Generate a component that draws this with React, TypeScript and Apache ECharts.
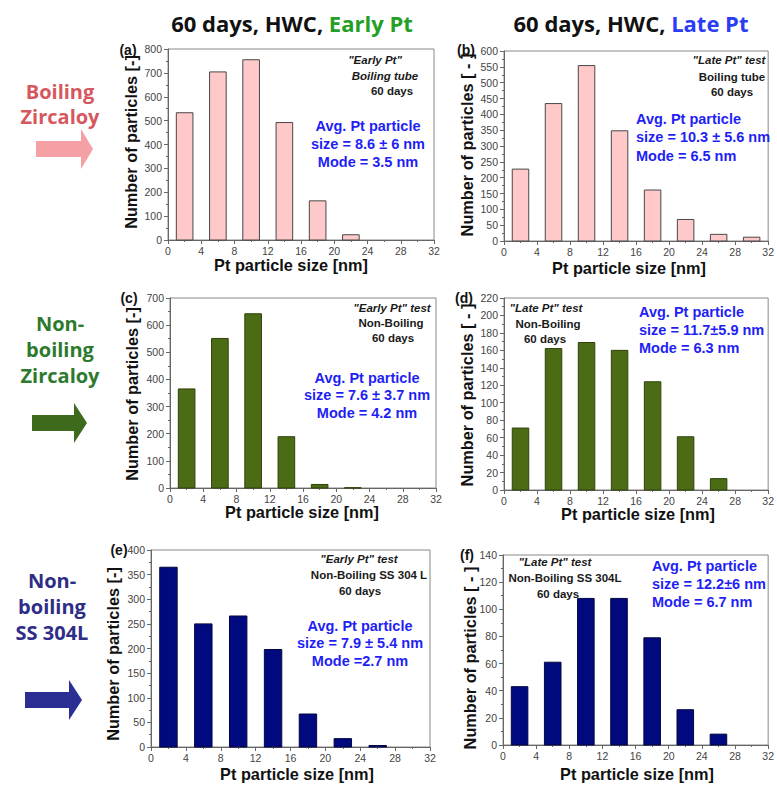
import React, { useEffect, useRef } from "react";
import * as echarts from "echarts";

// ---------- data ----------
const binCenters = [2, 6, 10, 14, 18, 22, 26, 30];
const countsA = [533, 704, 755, 492, 164, 22];
const countsB = [227, 434, 554, 348, 161, 68, 21, 12];
const countsC = [365, 551, 642, 189, 13, 1];
const countsD = [71, 162, 169, 160, 124, 61, 13];
const countsE = [365, 250, 266, 198, 67, 17, 3];
const countsF = [43, 61, 108, 108, 79, 26, 8];
const binHalfWidth = 1;
const xMin = 0;
const xMax = 32;
const xStep = 4;
const yMaxes = [800, 600, 700, 220, 400, 140];
const ySteps = [100, 50, 100, 20, 50, 20];
const panelLabels = ["(a)", "(b)", "(c)", "(d)", "(e)", "(f)"];
const xName = "Pt particle size [nm]";
const yNames = [
  "Number of particles [-]",
  "Number of particles [ - ]",
  "Number of particles [-]",
  "Number of particles [ - ]",
  "Number of particles [-]",
  "Number of particles [ - ]",
];
const noteLines = [
  ['"Early Pt"', "Boiling tube", "60 days"],
  ['"Late Pt" test', "Boiling tube", "60 days"],
  ['"Early Pt" test', "Non-Boiling", "60 days"],
  ['"Late Pt" test', "Non-Boiling", "60 days"],
  ['"Early Pt" test', "Non-Boiling SS 304 L", "60 days"],
  ['"Late Pt" test', "Non-Boiling SS 304L", "60 days"],
];
const noteItalic = [
  [true, true, false],
  [true, false, false],
  [true, false, false],
  [true, false, false],
  [true, false, false],
  [true, false, false],
];
const avgTexts = [
  "Avg. Pt particle\nsize = 8.6 ± 6 nm\nMode = 3.5 nm",
  "Avg. Pt particle\nsize = 10.3 ± 5.6 nm\nMode = 6.5 nm",
  "Avg. Pt particle\nsize = 7.6 ± 3.7 nm\nMode = 4.2 nm",
  "Avg. Pt particle\nsize = 11.7±5.9 nm\nMode = 6.3 nm",
  "Avg. Pt particle\nsize = 7.9 ± 5.4 nm\nMode =2.7 nm",
  "Avg. Pt particle\nsize = 12.2±6 nm\nMode = 6.7 nm",
];
const allCounts = [countsA, countsB, countsC, countsD, countsE, countsF];
const titleLeftA = "60 days, HWC, ";
const titleLeftB = "Early Pt";
const titleRightB = "Late Pt";
const rowLabels = ["Boiling\nZircaloy", "Non-\nboiling\nZircaloy", "Non-\nboiling\nSS 304L"];

// ---------- layout / style ----------
const grids = [
  { left: 168, top: 49, width: 266, height: 191 },
  { left: 504, top: 51, width: 268, height: 190 },
  { left: 170, top: 298, width: 266, height: 190 },
  { left: 504, top: 298, width: 267, height: 192 },
  { left: 151, top: 550, width: 279, height: 197 },
  { left: 503, top: 555, width: 268, height: 190 },
];
const barFill = ["#ffc9c9", "#ffc9c9", "#4b6b14", "#4b6b14", "#000a7e", "#000a7e"];
const barStroke = ["#474747", "#474747", "#2e430a", "#2e430a", "#05073f", "#05073f"];
const labelPos = [
  [128, 50], [466, 50], [129, 298], [464, 298], [119, 550], [467, 555],
];
const notePos = [
  [[375, 60], [385, 76], [392, 91]],
  [[729, 60], [732, 77], [732, 92]],
  [[392, 308], [391, 323], [393, 338]],
  [[546, 308], [548, 324], [545, 339]],
  [[359, 559], [369, 575], [360, 591]],
  [[555, 562], [565, 578], [558, 594]],
];
const avgPos = [
  { x: 368, y: 144, align: "center", lh: 18 },
  { x: 636, y: 137, align: "left", lh: 18.5 },
  { x: 367, y: 395, align: "center", lh: 17.5 },
  { x: 639, y: 330, align: "left", lh: 18 },
  { x: 360, y: 643, align: "center", lh: 17.5 },
  { x: 652, y: 584, align: "left", lh: 18 },
];
const xNamePos = [
  [291, 265], [629, 268], [302, 512], [638, 514], [297, 774], [637, 774],
];
const yNamePos = [
  [131, 142], [467, 145], [132, 394], [467, 395], [113, 654], [470, 658],
];
const SANS = "'Liberation Sans', Arial, sans-serif";
const OPEN = "'Open Sans', 'Noto Sans', sans-serif";

function arrow(x0: number, xh: number, x1: number, cy: number, shaftH: number, headH: number, color: string) {
  return {
    type: "polygon",
    shape: {
      points: [
        [x0, cy - shaftH / 2],
        [xh, cy - shaftH / 2],
        [xh, cy - headH / 2],
        [x1, cy],
        [xh, cy + headH / 2],
        [xh, cy + shaftH / 2],
        [x0, cy + shaftH / 2],
      ],
    },
    style: { fill: color },
    silent: true,
  };
}

export default function App() {
  const ref = useRef<HTMLDivElement>(null);
  useEffect(() => {
    document.body.style.margin = "0";
    if (!ref.current) return;
    const chart = echarts.init(ref.current, undefined, { renderer: "svg" });

    const xAxes = grids.map((_, i) => ({
      type: "value",
      gridIndex: i,
      min: xMin,
      max: xMax,
      interval: xStep,
      axisLine: { show: true, lineStyle: { color: "#666", width: 1 } },
      axisTick: { show: true, length: 4, lineStyle: { color: "#666" } },
      minorTick: { show: true, splitNumber: 2, length: 2, lineStyle: { color: "#666" } },
      splitLine: { show: false },
      axisLabel: { fontSize: 10.5, color: "#444", fontFamily: SANS, margin: 5 },
    }));
    const yAxes = grids.map((_, i) => ({
      type: "value",
      gridIndex: i,
      min: 0,
      max: yMaxes[i],
      interval: ySteps[i],
      axisLine: { show: true, lineStyle: { color: "#666", width: 1 } },
      axisTick: { show: true, length: 4, lineStyle: { color: "#666" } },
      minorTick: { show: true, splitNumber: 2, length: 2, lineStyle: { color: "#666" } },
      splitLine: { show: false },
      axisLabel: { fontSize: 10.5, color: "#444", fontFamily: SANS, margin: 6 },
    }));
    const series = allCounts.map((counts, i) => ({
      type: "custom",
      xAxisIndex: i,
      yAxisIndex: i,
      encode: { x: 0, y: 1 },
      data: counts.map((c, k) => [binCenters[k], c]),
      renderItem: (_p: any, api: any) => {
        const x = api.value(0);
        const y = api.value(1);
        const p0 = api.coord([x - binHalfWidth, y]);
        const p1 = api.coord([x + binHalfWidth, 0]);
        return {
          type: "rect",
          shape: { x: p0[0], y: p0[1], width: p1[0] - p0[0], height: p1[1] - p0[1] },
          style: { fill: barFill[i], stroke: barStroke[i], lineWidth: 1 },
        };
      },
    }));

    const graphics: any[] = [];
    // column titles
    graphics.push({
      type: "text",
      x: 292,
      y: 23,
      style: {
        text: `{k|${titleLeftA}}{g|${titleLeftB}}`,
        align: "center",
        verticalAlign: "middle",
        rich: {
          k: { fill: "#111", fontSize: 22, fontWeight: "bold", fontFamily: OPEN },
          g: { fill: "#24a024", fontSize: 22, fontWeight: "bold", fontFamily: OPEN },
        },
      },
    });
    graphics.push({
      type: "text",
      x: 631,
      y: 23,
      style: {
        text: `{k|${titleLeftA}}{b|${titleRightB}}`,
        align: "center",
        verticalAlign: "middle",
        rich: {
          k: { fill: "#111", fontSize: 22, fontWeight: "bold", fontFamily: OPEN },
          b: { fill: "#2b3cf2", fontSize: 22, fontWeight: "bold", fontFamily: OPEN },
        },
      },
    });
    // row labels
    const rowStyle = [
      { x: 60, y: 104, color: "#d6585e", lh: 25 },
      { x: 60, y: 349, color: "#2d7a2d", lh: 26 },
      { x: 52, y: 606, color: "#2e2d88", lh: 26 },
    ];
    rowLabels.forEach((t, i) => {
      graphics.push({
        type: "text",
        x: rowStyle[i].x,
        y: rowStyle[i].y,
        style: {
          text: t,
          align: "center",
          verticalAlign: "middle",
          fill: rowStyle[i].color,
          fontSize: 20,
          fontWeight: "bold",
          fontFamily: OPEN,
          lineHeight: rowStyle[i].lh,
        },
      });
    });
    graphics.push(arrow(36, 81, 93, 149, 16, 40, "#f4a0a5"));
    graphics.push(arrow(32, 74, 87, 423, 16, 40, "#3d6a1b"));
    graphics.push(arrow(25, 69, 82, 700, 16, 40, "#2b2e93"));

    grids.forEach((_, i) => {
      graphics.push({
        type: "text",
        x: labelPos[i][0],
        y: labelPos[i][1],
        style: {
          text: panelLabels[i],
          align: "center",
          verticalAlign: "middle",
          fill: "#111",
          fontSize: 14,
          fontWeight: "bold",
          fontFamily: SANS,
        },
      });
      noteLines[i].forEach((t, k) => {
        graphics.push({
          type: "text",
          x: notePos[i][k][0],
          y: notePos[i][k][1],
          style: {
            text: t,
            align: "center",
            verticalAlign: "middle",
            fill: "#1a1a1a",
            fontSize: 11.5,
            fontWeight: "bold",
            fontStyle: noteItalic[i][k] ? "italic" : "normal",
            fontFamily: SANS,
          },
        });
      });
      graphics.push({
        type: "text",
        x: avgPos[i].x,
        y: avgPos[i].y,
        style: {
          text: avgTexts[i],
          align: avgPos[i].align,
          verticalAlign: "middle",
          fill: "#1f1ff5",
          fontSize: 14.5,
          fontWeight: "bold",
          fontFamily: SANS,
          lineHeight: avgPos[i].lh,
        },
      });
      graphics.push({
        type: "text",
        x: xNamePos[i][0],
        y: xNamePos[i][1],
        style: {
          text: xName,
          align: "center",
          verticalAlign: "middle",
          fill: "#111",
          fontSize: 16.3,
          fontWeight: "bold",
          fontFamily: SANS,
        },
      });
      graphics.push({
        type: "text",
        x: yNamePos[i][0],
        y: yNamePos[i][1],
        rotation: Math.PI / 2,
        style: {
          text: yNames[i],
          align: "center",
          verticalAlign: "middle",
          fill: "#111",
          fontSize: 16.3,
          fontWeight: "bold",
          fontFamily: SANS,
        },
      });
    });

    chart.setOption({
      animation: false,
      backgroundColor: "#ffffff",
      grid: grids.map((g) => ({
        ...g,
        show: true,
        borderColor: "#888",
        borderWidth: 1,
        backgroundColor: "transparent",
        containLabel: false,
      })),
      xAxis: xAxes,
      yAxis: yAxes,
      series,
      graphic: graphics,
    });
    return () => chart.dispose();
  }, []);
  return <div ref={ref} style={{ width: 777, height: 789 }} />;
}
